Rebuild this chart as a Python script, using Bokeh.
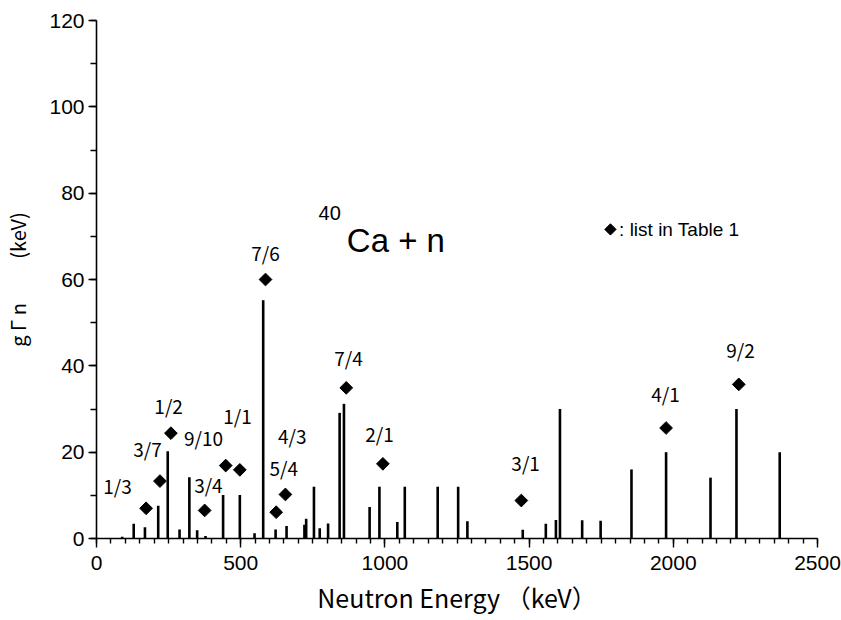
import math
from bokeh.plotting import figure
from bokeh.models import Range1d, SingleIntervalTicker, Label, ColumnDataSource
from bokeh.core.properties import value
from bokeh.embed import file_html
from bokeh.resources import INLINE

# resonance energies (keV) and g*Gamma_n (keV)
bar_energy = [89, 129, 168, 214, 247, 288, 322, 349, 378, 439, 497, 548, 578, 621, 659,
              721, 727, 754, 774, 803, 843, 858, 947, 981, 1043, 1069, 1183, 1254, 1286,
              1478, 1558, 1593, 1607, 1684, 1748, 1855, 1975, 2129, 2219, 2369]
bar_width_kev = [0.4, 3.4, 2.6, 7.6, 20.2, 2.1, 14.2, 1.9, 0.6, 10.1, 10.1, 1.2, 55.2, 2.1, 2.9,
                 3.2, 4.6, 12.0, 2.4, 3.5, 29.1, 31.2, 7.3, 12.0, 3.8, 12.0, 12.0, 12.0, 4.0,
                 2.0, 3.4, 4.3, 30.0, 4.2, 4.1, 16.0, 20.0, 14.1, 30.0, 20.0]

# "list in Table 1" points
table_energy = [172, 220, 258, 375, 448, 497, 586, 623, 655, 866, 993, 1473, 1975, 2227]
table_value = [7.0, 13.3, 24.4, 6.5, 16.9, 15.9, 60.0, 6.1, 10.2, 34.9, 17.3, 8.8, 25.6, 35.7]

# annotation labels
ann_text = ["1/3", "3/7", "1/2", "9/10", "3/4", "1/1", "7/6", "5/4", "4/3", "7/4", "2/1", "3/1", "4/1", "9/2"]
ann_x = [73, 177, 250, 371, 388, 489, 586, 649, 679, 874, 981, 1488, 1973, 2233]
ann_y = [12.3, 20.8, 30.8, 23.4, 12.5, 28.5, 66.2, 16.4, 23.9, 41.9, 24.3, 17.6, 33.6, 43.8]

x_ticks_interval = 500
y_ticks_interval = 20

p = figure(width=841, height=620, output_backend="svg", toolbar_location=None,
           x_range=Range1d(0, 2500), y_range=Range1d(0, 120),
           min_border_left=96, min_border_right=24, min_border_top=20, min_border_bottom=82)
p.outline_line_color = None
p.grid.visible = False
p.background_fill_color = "white"
p.border_fill_color = "white"

bars = ColumnDataSource(dict(x=bar_energy, y0=[0] * len(bar_energy), y1=bar_width_kev))
p.segment(x0="x", y0="y0", x1="x", y1="y1", source=bars, line_color="black", line_width=2.6)

pts = ColumnDataSource(dict(x=table_energy, y=table_value))
p.scatter(x="x", y="y", source=pts, marker="square", angle=math.pi / 4, size=9,
          fill_color="black", line_color="black")

ann = ColumnDataSource(dict(x=ann_x, y=ann_y, t=ann_text))
p.text(x="x", y="y", text="t", source=ann, text_align="center", text_baseline="middle",
       text_font=value("Noto Sans CJK JP"), text_font_size="19px", text_color="black")

# axes
for ax in (p.xaxis[0], p.yaxis[0]):
    ax.axis_line_width = 1.6
    ax.axis_line_color = "black"
    ax.major_tick_line_width = 1.4
    ax.minor_tick_line_width = 1.4
    ax.major_tick_line_color = "black"
    ax.minor_tick_line_color = "black"
    ax.major_tick_in = 0
    ax.minor_tick_in = 0
    ax.major_label_text_font = "Liberation Sans"
    ax.major_label_text_font_size = "21px"
    ax.major_label_text_color = "black"
    ax.axis_label_text_color = "black"
    ax.axis_label_text_font = "Noto Sans CJK JP"
    ax.axis_label_text_font_style = "normal"

p.xaxis.ticker = SingleIntervalTicker(interval=x_ticks_interval, num_minor_ticks=10)
p.xaxis.major_tick_out = 9
p.xaxis.minor_tick_out = 5
p.xaxis.major_label_standoff = 8
p.xaxis.axis_label = "Neutron Energy （keV）"
p.xaxis.axis_label_text_font_size = "25px"
p.xaxis.axis_label_standoff = 6

p.yaxis.ticker = SingleIntervalTicker(interval=y_ticks_interval, num_minor_ticks=2)
p.yaxis.major_tick_out = 8
p.yaxis.minor_tick_out = 6
p.yaxis.major_label_standoff = 4
p.yaxis.axis_label = "g Γ n\u3000\u3000 (keV)"
p.yaxis.axis_label_text_font_size = "20px"
p.yaxis.axis_label_standoff = 14

# title pieces
p.add_layout(Label(x=770, y=75.5, text="40", text_baseline="alphabetic",
                   text_font="Liberation Sans", text_font_size="20px", text_color="black"))
p.add_layout(Label(x=868, y=69.0, text="Ca + n", text_baseline="alphabetic",
                   text_font="Liberation Sans", text_font_size="33px", text_color="black"))

# legend
p.scatter(x=[1782], y=[71.6], marker="square", angle=math.pi / 4, size=8,
          fill_color="black", line_color="black")
p.add_layout(Label(x=1812, y=71.6, text=": list in Table 1", text_baseline="middle",
                   text_font="Liberation Sans", text_font_size="19px", text_color="black"))

open("out.html", "w").write(file_html(p, INLINE))
